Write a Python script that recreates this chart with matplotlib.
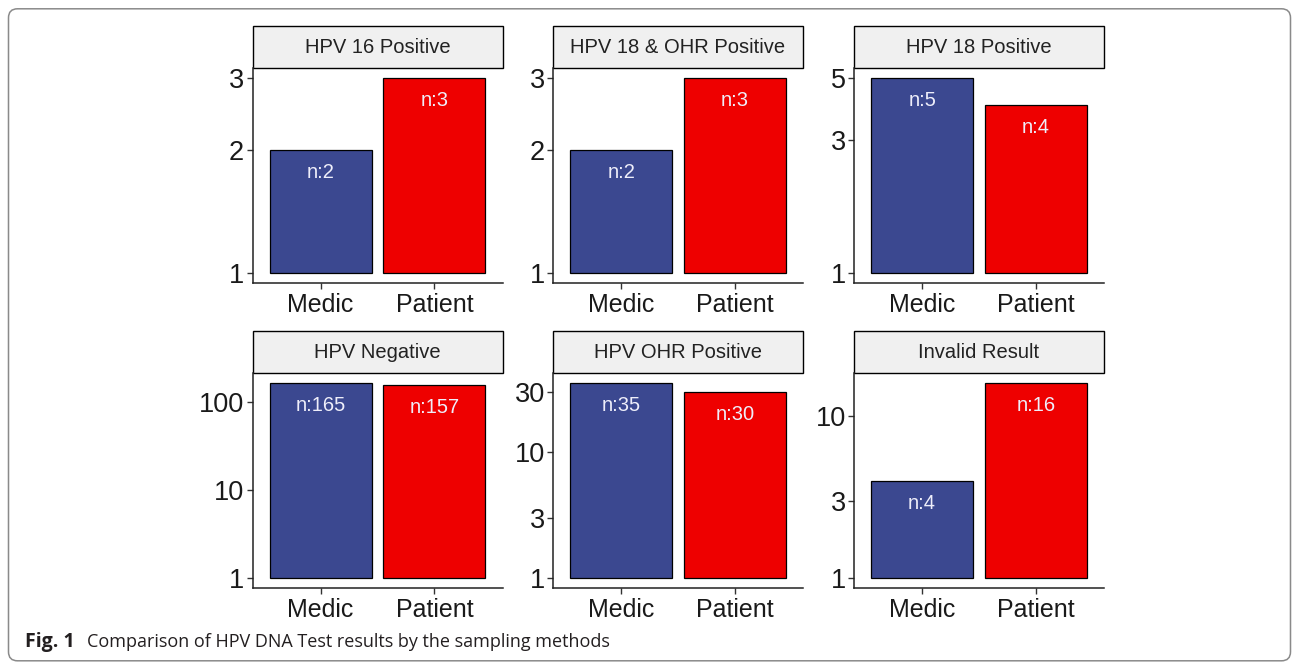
import matplotlib
matplotlib.use("Agg")
import matplotlib.pyplot as plt
from matplotlib.patches import Rectangle, FancyBboxPatch
from matplotlib.ticker import NullLocator
import numpy as np

plt.rcParams['font.family'] = ['Liberation Sans', 'DejaVu Sans']

# data
panels = ["HPV 16 Positive", "HPV 18 & OHR Positive", "HPV 18 Positive",
          "HPV Negative", "HPV OHR Positive", "Invalid Result"]
groups = ["Medic", "Patient"]
medic = [2, 2, 5, 165, 35, 4]
patient = [3, 3, 4, 157, 30, 16]
yticks = [[1, 2, 3], [1, 2, 3], [1, 3, 5], [1, 10, 100], [1, 3, 10, 30], [1, 3, 10]]

colors = ["#3B4890", "#EE0000"]

W, H = 1292, 662
fig = plt.figure(figsize=(W / 100, H / 100), dpi=100)

# frame around the whole figure
frame = FancyBboxPatch((0.085, 0.012), 12.82, 6.52,
                       boxstyle="round,pad=0,rounding_size=0.09",
                       transform=fig.dpi_scale_trans, fill=False,
                       edgecolor="#8a8a8a", linewidth=1.1)
fig.patches.append(frame)

col_left = [252.5, 553.0, 854.0]
ax_w = 250.0
row_top = [68.3, 373.3]
ax_h = 214.5
strip_h = 42.0

for k, name in enumerate(panels):
    r, c = divmod(k, 3)
    left = col_left[c] / W
    bottom = 1 - (row_top[r] + ax_h) / H
    ax = fig.add_axes([left, bottom, ax_w / W, ax_h / H])
    vals = [medic[k], patient[k]]
    ax.set_yscale("log")
    ax.bar(groups, np.array(vals) - 1, bottom=1, width=0.9, color=colors,
           edgecolor="black", linewidth=0.9)
    L = np.log10(max(vals))
    ax.set_ylim(10 ** (-0.05 * L), 10 ** (1.05 * L))
    ax.set_xlim(-0.6, 1.6)
    ax.set_yticks(yticks[k])
    ax.set_yticklabels([str(t) for t in yticks[k]])
    ax.yaxis.set_minor_locator(NullLocator())
    for i, v in enumerate(vals):
        ax.annotate(f"n:{v}", xy=(i, v), xytext=(0, -9.5), textcoords="offset points",
                    ha="center", va="top", color="#EEEEFA", fontsize=14.5)
    for s in ["top", "right"]:
        ax.spines[s].set_visible(False)
    for s in ["left", "bottom"]:
        ax.spines[s].set_linewidth(1.1)
        ax.spines[s].set_color("#222222")
    ax.tick_params(axis="both", length=4, width=1.0, color="#333333",
                   labelcolor="#1a1a1a")
    ax.tick_params(axis="y", pad=2, labelsize=19.5)
    ax.tick_params(axis="x", pad=3.5, labelsize=18)
    # facet strip
    sh = strip_h / ax_h
    ax.add_patch(Rectangle((0, 1), 1, sh, transform=ax.transAxes, clip_on=False,
                           facecolor="#F0F0F0", edgecolor="black", linewidth=1.0))
    ax.text(0.5, 1 + sh / 2, name, transform=ax.transAxes, ha="center", va="center",
            fontsize=14.5, color="#222222")

# caption
fig.text(25 / W, 1 - 647 / H, "Fig. 1", fontsize=14, fontweight="bold",
         family=["Open Sans", "DejaVu Sans"], color="#231F20", va="baseline")
fig.text(87 / W, 1 - 647 / H, "Comparison of HPV DNA Test results by the sampling methods",
         fontsize=13, family=["Open Sans", "DejaVu Sans"], color="#231F20", va="baseline")

fig.savefig("out.png", dpi=100)
